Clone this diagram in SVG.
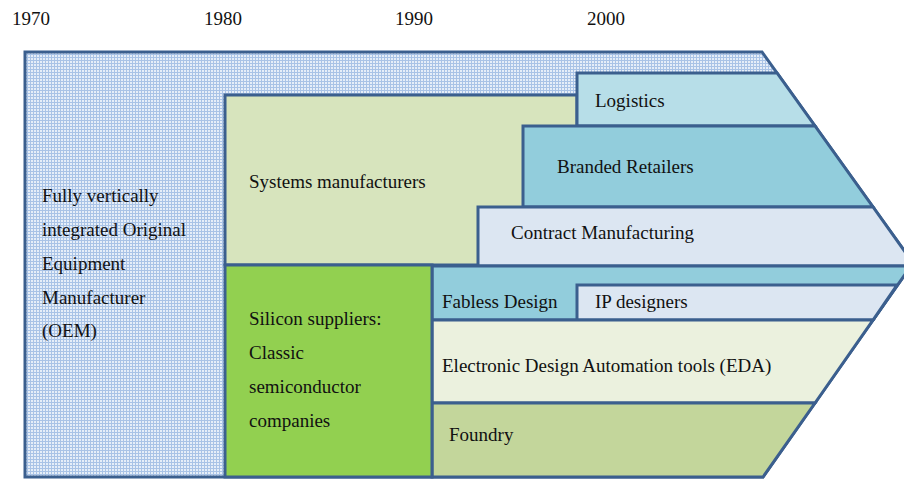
<svg xmlns="http://www.w3.org/2000/svg" width="904" height="479" viewBox="0 0 904 479">
<defs>
<pattern id="grid" width="3" height="3" patternUnits="userSpaceOnUse">
<rect width="3" height="3" fill="#e6eef8"/>
<path d="M0 0.5H3M0.5 0V3" stroke="#a9c3e6" stroke-width="1"/>
</pattern>
</defs>
<style>
.s{stroke:#3b5f8e;stroke-width:3;stroke-linejoin:miter}
text{font-family:"Liberation Serif","Times New Roman",serif;font-size:19px;fill:#111}
</style>
<rect width="904" height="479" fill="#fff"/>
<g id="years">
<text x="12" y="25">1970</text>
<text x="204" y="25">1980</text>
<text x="395" y="25">1990</text>
<text x="587" y="25">2000</text>
</g>
<g id="oem">
<polygon class="s" fill="url(#grid)" points="25,52 762,52 913,263 763,477 25,477"/>
<text x="42" y="202">Fully vertically</text>
<text x="42" y="236">integrated Original</text>
<text x="42" y="270">Equipment</text>
<text x="42" y="304">Manufacturer</text>
<text x="42" y="337">(OEM)</text>
</g>
<g id="systems">
<rect class="s" fill="#d7e4bd" x="225" y="95" width="352" height="170"/>
<text x="249" y="188">Systems manufacturers</text>
</g>
<g id="logistics">
<polygon class="s" fill="#b7dee8" points="577,73 777,73 815,126 577,126"/>
<text x="595" y="107">Logistics</text>
</g>
<g id="branded">
<polygon class="s" fill="#92cddc" points="523,126 815,126 873,207 523,207"/>
<text x="557" y="173">Branded Retailers</text>
</g>
<g id="contract">
<polygon class="s" fill="#dce6f2" points="478,207 873,207 913,263 911,266 478,266"/>
<text x="511" y="239">Contract Manufacturing</text>
</g>
<g id="fabless">
<polygon class="s" fill="#92cddc" points="432,266 911,266 873,320 432,320"/>
<text x="442" y="308">Fabless Design</text>
</g>
<g id="ip">
<polygon class="s" fill="#dce6f2" points="577,285 897,285 873,320 577,320"/>
<text x="595" y="308">IP designers</text>
</g>
<g id="eda">
<polygon class="s" fill="#ebf1de" points="432,320 873,320 815,403 432,403"/>
<text x="442" y="372">Electronic Design Automation tools (EDA)</text>
</g>
<g id="foundry">
<polygon class="s" fill="#c3d69b" points="432,403 815,403 763,477 432,477"/>
<text x="449" y="441">Foundry</text>
</g>
<g id="silicon">
<rect class="s" fill="#92d050" x="225" y="265" width="207" height="212"/>
<text x="249" y="325">Silicon suppliers:</text>
<text x="249" y="359">Classic</text>
<text x="249" y="393">semiconductor</text>
<text x="249" y="427">companies</text>
</g>
<g id="connectors"/>
</svg>
